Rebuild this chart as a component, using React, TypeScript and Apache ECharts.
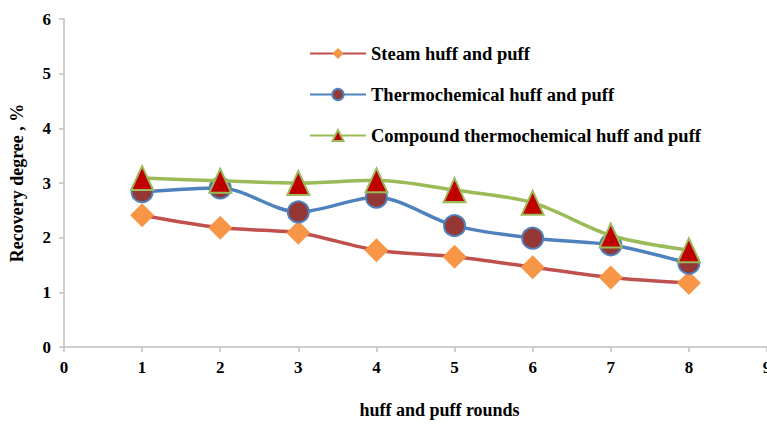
import React, { useEffect, useRef } from "react";
import * as echarts from "echarts";

const rounds = [1, 2, 3, 4, 5, 6, 7, 8];
const steam = [2.41, 2.18, 2.09, 1.77, 1.65, 1.46, 1.27, 1.17];
const thermo = [2.84, 2.91, 2.47, 2.74, 2.22, 1.99, 1.87, 1.53];
const compound = [3.09, 3.04, 3.0, 3.05, 2.87, 2.64, 2.04, 1.77];
const seriesNames = [
  "Steam huff and puff",
  "Thermochemical huff and puff",
  "Compound thermochemical huff and puff",
];

const FONT = "Liberation Serif";

export default function App() {
  const ref = useRef<HTMLDivElement>(null);
  useEffect(() => {
    document.body.style.margin = "0";
    document.body.style.overflow = "hidden";
    if (!ref.current) return;
    const chart = echarts.init(ref.current, undefined, { renderer: "svg", width: 767, height: 424 });
    const pair = (ys: number[]) => rounds.map((x, i) => [x, ys[i]]);
    const axisLine = { show: true, lineStyle: { color: "#bfbfbf", width: 1.5 } };
    const txt = { fontFamily: FONT, fontSize: 18, fontWeight: "bold" as const, color: "#000" };
    chart.setOption({
      animation: false,
      backgroundColor: "#ffffff",
      textStyle: { fontFamily: FONT },
      grid: { left: 64, right: 0, top: 19, bottom: 77, containLabel: false, outerBoundsMode: "none" },
      legend: {
        orient: "vertical",
        left: 304,
        top: 39,
        padding: 5,
        itemWidth: 56,
        itemHeight: 14,
        itemGap: 22,
        textStyle: { ...txt, fontSize: 18.5 },
        data: seriesNames,
      },
      xAxis: {
        type: "value",
        min: 0,
        max: 9,
        interval: 1,
        name: "huff and puff rounds",
        nameLocation: "middle",
        nameGap: 54,
        nameTextStyle: { ...txt, padding: [0, 0, 0, 48] },
        axisLine,
        axisTick: { show: true, length: 5, lineStyle: { color: "#bfbfbf", width: 1.5 } },
        splitLine: { show: false },
        axisLabel: { ...txt, fontSize: 17, margin: 12 },
      },
      yAxis: {
        type: "value",
        min: 0,
        max: 6,
        interval: 1,
        name: "Recovery degree , %",
        nameLocation: "middle",
        nameGap: 38,
        nameTextStyle: txt,
        axisLine,
        axisTick: { show: true, length: 5, lineStyle: { color: "#bfbfbf", width: 1.5 } },
        splitLine: { show: false },
        axisLabel: { ...txt, fontSize: 17, margin: 13 },
      },
      series: [
        {
          name: seriesNames[0],
          type: "line",
          data: pair(steam),
          smooth: 0.3,
          symbol: "diamond",
          symbolSize: 24,
          lineStyle: { color: "#c0504d", width: 3.5 },
          itemStyle: { color: "#f79646", borderColor: "#f79646", borderWidth: 0 },
          z: 2,
        },
        {
          name: seriesNames[1],
          type: "line",
          data: pair(thermo),
          smooth: 0.3,
          symbol: "circle",
          symbolSize: 21,
          lineStyle: { color: "#4f81bd", width: 3.5 },
          itemStyle: { color: "#953735", borderColor: "#4f81bd", borderWidth: 2 },
          z: 3,
        },
        {
          name: seriesNames[2],
          type: "line",
          data: pair(compound),
          smooth: 0.3,
          symbol: "triangle",
          symbolSize: [22, 24],
          lineStyle: { color: "#9bbb59", width: 3.5 },
          itemStyle: { color: "#c00000", borderColor: "#9bbb59", borderWidth: 2 },
          z: 4,
        },
      ],
    });
    return () => chart.dispose();
  }, []);
  return <div ref={ref} style={{ width: 767, height: 424, position: "fixed", left: 0, top: 0 }} />;
}
